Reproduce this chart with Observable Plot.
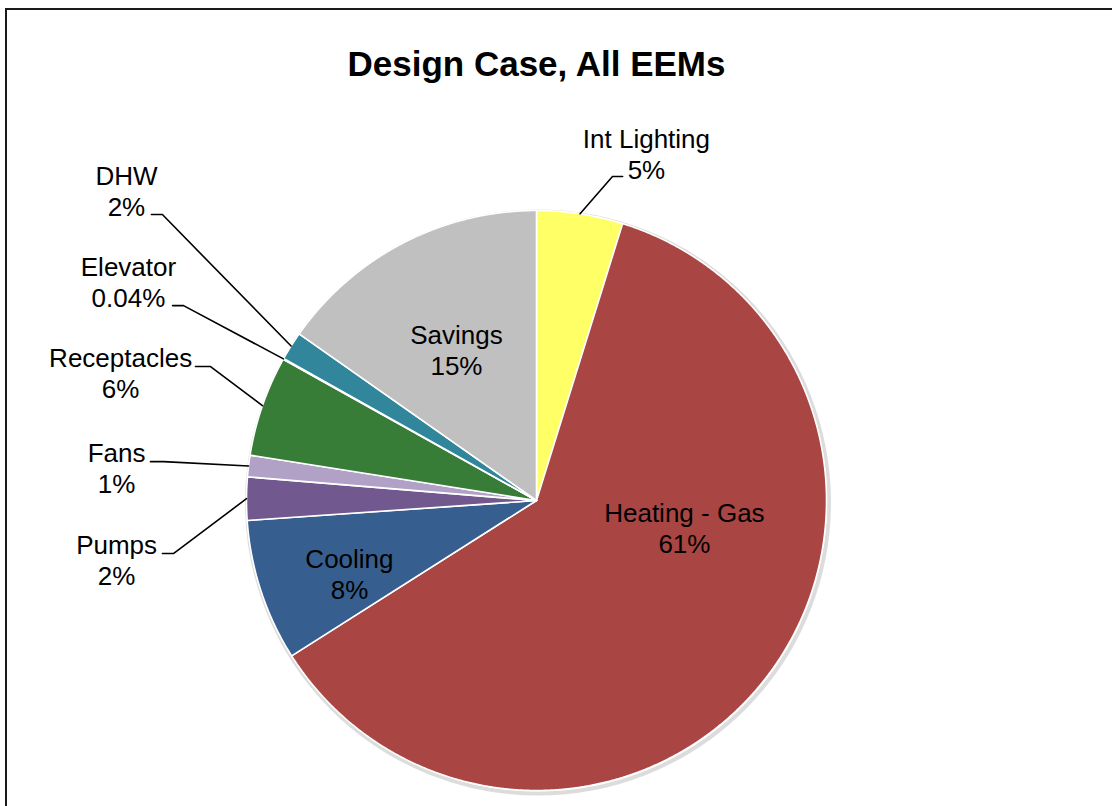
<!DOCTYPE html>
<html><head><meta charset="utf-8">
<script src="https://cdn.jsdelivr.net/npm/d3@7"></script>
<script src="https://cdn.jsdelivr.net/npm/@observablehq/plot@0.6"></script>
<style>
html,body{margin:0;padding:0;background:#fff;overflow:hidden;width:1112px;height:806px;}
#chart{position:absolute;left:0;top:0;}
#frame{position:absolute;left:5px;top:8px;width:1300px;height:1000px;border:2px solid #1a1a1a;box-sizing:border-box;pointer-events:none;}
</style></head><body>
<div id="chart"></div><div id="frame"></div>
<script>
// ---- data ----
const title = "Design Case, All EEMs";
const categories = ["Int Lighting", "Heating - Gas", "Cooling", "Pumps", "Fans", "Receptacles", "Elevator", "DHW", "Savings"];
const shares = [4.8, 61.2, 7.9, 2.4, 1.2, 5.6, 0.04, 1.6, 15.26];
const pctLabels = ["5%", "61%", "8%", "2%", "1%", "6%", "0.04%", "2%", "15%"];

// ---- styles ----
const sliceColors = ["#FFFF66", "#A94643", "#365F8F", "#71588F", "#B2A1C7", "#387D37", "#4BACC6", "#31869C", "#C0C0C0"];

// ---- layout (pie-radius units, centre = 0,0, y up) ----
const W = 1112, H = 806, R = 290, CX = 536, CY = 500;
const titlePos = {x: 0, y: 1.504};
const labelPos = [
  {lx: 0.379, ly: 1.197, leader: [[0.297, 1.117], [0.262, 1.117]]},
  {lx: 0.510, ly: -0.093},
  {lx: -0.645, ly: -0.252},
  {lx: -1.448, ly: -0.203, leader: [[-1.290, -0.183], [-1.252, -0.183]]},
  {lx: -1.448, ly: 0.114, leader: [[-1.331, 0.134], [-1.286, 0.134]]},
  {lx: -1.434, ly: 0.441, leader: [[-1.176, 0.462], [-1.124, 0.462]]},
  {lx: -1.407, ly: 0.755, leader: [[-1.255, 0.672], [-1.217, 0.672]]},
  {lx: -1.414, ly: 1.069, leader: [[-1.328, 0.986], [-1.290, 0.986]]},
  {lx: -0.276, ly: 0.521}
];

const rows = categories.map((name, i) => ({name, share: shares[i], pct: pctLabels[i], i}));
const arcs = d3.pie().sort(null).value(d => d.share)(rows);

const slicePts = [];
arcs.forEach(a => {
  const name = a.data.name;
  const n = Math.max(2, Math.ceil((a.endAngle - a.startAngle) / 0.004));
  slicePts.push({name, x: 0, y: 0});
  for (let j = 0; j <= n; j++) {
    const t = a.startAngle + (a.endAngle - a.startAngle) * j / n;
    slicePts.push({name, x: Math.sin(t), y: Math.cos(t)});
  }
  slicePts.push({name, x: 0, y: 0});
});

const leaderPts = [];
arcs.forEach((a, i) => {
  const L = labelPos[i].leader;
  if (!L) return;
  const m = (a.startAngle + a.endAngle) / 2;
  L.forEach(p => leaderPts.push({k: i, x: p[0], y: p[1]}));
  leaderPts.push({k: i, x: Math.sin(m), y: Math.cos(m)});
});

const labels = rows.map((d, i) => ({text: d.name + "\n" + d.pct, x: labelPos[i].lx, y: labelPos[i].ly}));

const font = "'Liberation Sans', Arial, Helvetica, sans-serif";

const chart = Plot.plot({
  width: W, height: H, margin: 0,
  x: {domain: [-CX / R, (W - CX) / R], axis: null},
  y: {domain: [-(H - CY) / R, CY / R], axis: null},
  color: {domain: categories, range: sliceColors},
  style: {fontFamily: font, background: "transparent", overflow: "visible"},
  marks: [
    Plot.dot([{x: 0, y: 0}], {x: "x", y: "y", r: R + 1, fill: "none", stroke: "#9a9a9a", strokeOpacity: 0.35, strokeWidth: 4, dx: 1.5, dy: 2}),
    Plot.line(slicePts, {x: "x", y: "y", z: "name", fill: "name", stroke: "white", strokeWidth: 1.6, strokeLinejoin: "round", curve: "linear"}),
    Plot.line(leaderPts, {x: "x", y: "y", z: "k", stroke: "black", strokeWidth: 1.6, fill: "none"}),
    Plot.text(labels, {x: "x", y: "y", text: "text", fontSize: 26, lineHeight: 1.2, fill: "black", fontFamily: font}),
    Plot.text([title], {x: () => titlePos.x, y: () => titlePos.y, text: d => d, lineAnchor: "middle", fontSize: 35, fontWeight: "bold", fill: "black", fontFamily: font})
  ]
});
document.getElementById("chart").appendChild(chart);
</script>
</body></html>
